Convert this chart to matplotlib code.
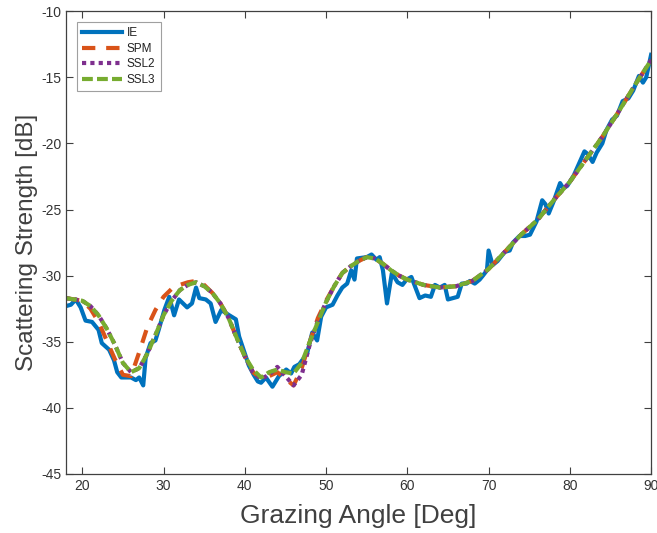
import matplotlib
matplotlib.use("Agg")
import matplotlib.pyplot as plt

# ---------------- data ----------------
ie_deg = [18.0, 18.6, 19.2, 19.8, 20.4, 21.2, 22.0, 22.4, 23.3, 23.9, 24.3, 24.8, 25.4, 26.0,
          26.6, 27.0, 27.5, 27.8, 28.4, 29.0, 29.4, 30.1, 30.7, 31.3, 31.9, 32.9, 33.5, 34.0,
          34.4, 35.2, 35.8, 36.4, 37.1, 38.1, 38.9, 39.3, 39.9, 40.5, 41.1, 41.6, 42.0, 42.6,
          43.4, 44.2, 45.1, 45.7, 46.1, 46.7, 47.3, 47.7, 48.3, 48.9, 49.4, 50.0, 50.8, 51.4,
          52.0, 52.6, 53.1, 53.5, 53.8, 55.0, 55.6, 56.2, 56.6, 57.0, 57.5, 58.1, 58.8, 59.4,
          59.9, 60.5, 61.0, 61.5, 62.2, 62.9, 63.4, 64.0, 64.6, 65.0, 65.6, 66.2, 66.7, 67.3,
          67.7, 68.3, 68.9, 69.3, 69.8, 70.0, 70.5, 71.1, 72.0, 72.6, 73.0, 73.8, 74.5, 75.1,
          75.9, 76.6, 77.0, 77.4, 78.0, 78.8, 79.2, 79.7, 80.5, 81.8, 82.2, 82.8, 83.3, 84.0,
          84.5, 85.2, 85.8, 86.5, 87.2, 87.8, 88.5, 89.0, 89.4, 90.0]
ie_db = [-32.3, -32.2, -31.8, -32.4, -33.4, -33.5, -34.1, -35.1, -35.6, -36.4, -37.3, -37.7, -37.7, -37.7,
         -37.9, -37.7, -38.3, -36.2, -35.1, -34.9, -34.1, -32.6, -31.6, -33.0, -31.8, -32.4, -32.1, -30.9,
         -31.7, -31.8, -32.1, -33.5, -32.6, -33.0, -33.3, -34.6, -35.7, -36.8, -37.5, -38.0, -38.1, -37.7,
         -38.4, -37.6, -37.1, -37.4, -36.9, -36.7, -36.2, -35.8, -34.3, -34.9, -33.1, -32.4, -32.2, -31.5,
         -30.9, -30.6, -29.6, -30.3, -28.7, -28.6, -28.4, -28.8, -28.6, -29.6, -32.1, -29.8, -30.5, -30.7,
         -30.3, -30.1, -30.9, -31.7, -31.5, -31.6, -30.7, -30.9, -30.7, -31.8, -31.7, -31.6, -30.6, -30.6,
         -30.4, -30.6, -30.3, -30.0, -29.6, -28.1, -29.2, -28.9, -28.2, -28.1, -27.5, -27.0, -27.0, -26.9,
         -25.9, -24.3, -24.6, -25.3, -24.4, -23.0, -23.4, -23.2, -22.4, -20.6, -20.8, -21.4, -20.7, -20.0,
         -19.0, -18.2, -17.9, -16.8, -16.6, -16.0, -14.9, -15.4, -15.0, -13.3]

sm_deg = [18, 19, 20, 21, 22, 23, 24, 25, 26, 27, 28, 29, 30, 31, 32, 33, 34, 35, 36, 37, 38, 39,
          40, 41, 42, 43, 44, 45, 46, 47, 48, 49, 50, 51, 52, 53, 54, 55, 56, 57, 58, 59, 60,
          62, 64, 66, 68, 70, 72, 74, 76, 78, 80, 82, 84, 86, 88, 90]
spm_db = [-31.7, -31.8, -31.9, -32.5, -33.5, -34.9, -36.3, -37.5, -37.6, -35.8, -33.9, -32.6, -31.6,
          -31.0, -30.7, -30.5, -30.4, -30.7, -31.3, -32.1, -33.2, -34.7, -36.1, -37.3, -37.8, -37.6,
          -37.3, -37.8, -38.3, -37.0, -35.0, -33.2, -31.9, -30.8, -29.8, -29.3, -28.9, -28.6, -28.7,
          -29.1, -29.6, -30.0, -30.3, -30.7, -30.9, -30.8, -30.4, -29.5, -28.2, -26.9, -25.8, -24.3,
          -22.9, -21.2, -19.5, -17.6, -15.6, -13.7]
ssl2_db = [-31.7, -31.8, -31.9, -32.3, -33.0, -34.0, -35.2, -36.6, -37.3, -37.0, -35.9, -34.5, -33.0,
           -31.9, -31.1, -30.7, -30.5, -30.8, -31.3, -32.1, -33.2, -34.7, -36.1, -37.3, -37.8, -37.5,
           -36.9, -37.6, -38.3, -37.5, -35.2, -33.4, -32.0, -30.8, -29.8, -29.3, -28.9, -28.6, -28.7,
           -29.1, -29.6, -30.0, -30.3, -30.7, -30.9, -30.8, -30.4, -29.5, -28.2, -26.9, -25.8, -24.3,
           -22.9, -21.2, -19.5, -17.6, -15.6, -13.7]
ssl3_db = [-31.7, -31.8, -31.9, -32.3, -33.0, -34.0, -35.2, -36.6, -37.3, -37.0, -35.9, -34.5, -33.0,
           -31.9, -31.1, -30.7, -30.5, -30.8, -31.3, -32.1, -33.2, -34.7, -36.1, -37.1, -37.7, -37.3,
           -37.1, -37.3, -37.4, -36.6, -35.0, -33.5, -32.0, -30.8, -29.8, -29.3, -28.9, -28.6, -28.7,
           -29.1, -29.6, -30.0, -30.3, -30.7, -30.9, -30.8, -30.4, -29.5, -28.2, -26.9, -25.8, -24.3,
           -22.9, -21.2, -19.5, -17.6, -15.6, -13.7]

x_ticks = [20, 30, 40, 50, 60, 70, 80, 90]
y_ticks = [-45, -40, -35, -30, -25, -20, -15, -10]

# ---------------- figure ----------------
plt.rcParams['font.family'] = ['Liberation Sans', 'DejaVu Sans']
plt.rcParams['axes.unicode_minus'] = False
fig = plt.figure(figsize=(6.57, 5.33), dpi=100)
ax = fig.add_axes([0.1005, 0.1107, 0.8905, 0.8683])

axc = '#404040'
lw = 3.0
ax.plot(ie_deg, ie_db, color='#0072BD', lw=lw, label='IE', solid_joinstyle='round')
l2, = ax.plot(sm_deg, spm_db, color='#D95319', lw=lw, label='SPM', dash_capstyle='butt')
l2.set_dashes([3.2, 2.6])
l3, = ax.plot(sm_deg, ssl2_db, color='#7E2F8E', lw=lw, label='SSL2', dash_capstyle='butt')
l3.set_dashes([1.0, 1.0])
l4, = ax.plot(sm_deg, ssl3_db, color='#77AC30', lw=lw, label='SSL3', dash_capstyle='butt')
l4.set_dashes([2.6, 1.0])

ax.set_xlim(18, 90)
ax.set_ylim(-45, -10)
ax.set_xticks(x_ticks)
ax.set_yticks(y_ticks)
ax.tick_params(direction='in', length=5, width=0.8, colors=axc, labelsize=10,
               top=True, right=True, labelcolor='#333333')
for s in ax.spines.values():
    s.set_color(axc)
    s.set_linewidth(0.9)

ax.set_xlabel('Grazing Angle [Deg]', fontsize=19, color='#404040', labelpad=8)
ax.set_ylabel('Scattering Strength [dB]', fontsize=17.5, color='#404040', labelpad=2)

leg = ax.legend(loc='upper left', fontsize=8.5, frameon=True, fancybox=False,
                borderaxespad=0.9, handlelength=3.4, handletextpad=0.4,
                labelspacing=0.3, borderpad=0.45)
leg.get_frame().set_edgecolor('#888888')
leg.get_frame().set_linewidth(0.8)
for t in leg.get_texts():
    t.set_color('#222222')

fig.savefig('out.png', dpi=100)
